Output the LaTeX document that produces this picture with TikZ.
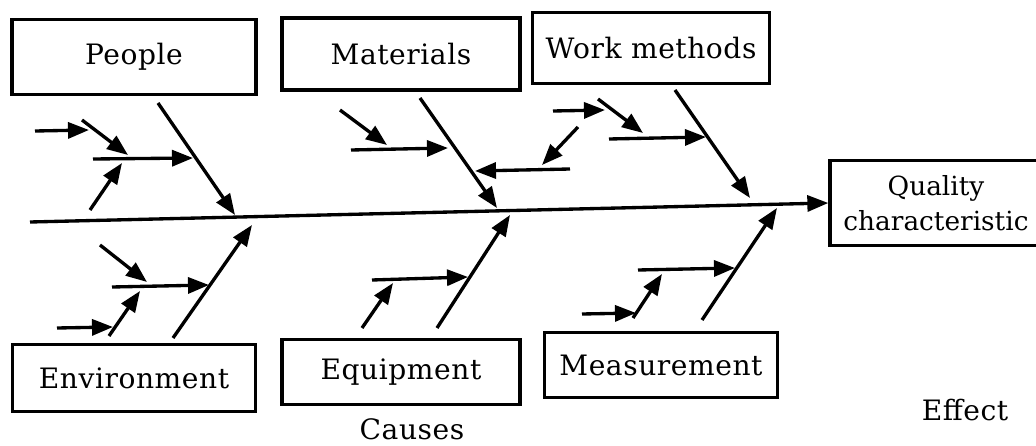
\documentclass[tikz,border=0pt]{standalone}
\usepackage{fontspec}
\setmainfont[LetterSpace=2]{DejaVu Serif}
\usepackage{tikz}
\usetikzlibrary{arrows.meta}

\begin{document}
\begin{tikzpicture}[
  x=0.02cm, y=-0.02cm,
  box/.style={draw, line width=1.9pt, align=center, inner sep=0pt, font=\fontsize{16}{20}\selectfont},
  caption/.style={align=center, font=\fontsize{16}{20}\selectfont},
  arrow/.style={-{Triangle[length=0.42cm, width=0.32cm]}, line width=1.9pt}
]
\useasboundingbox[fill=white] (0,0) rectangle (1036,446);

\node[box, minimum width=4.88cm, minimum height=1.5cm] (people) at (134,57) {People};
\node[box, minimum width=4.76cm, minimum height=1.44cm] (materials) at (401,54) {Materials};
\node[box, minimum width=4.74cm, minimum height=1.42cm] (work) at (651,48) {Work methods};
\node[box, minimum width=4.86cm, minimum height=1.34cm] (environment) at (134,378) {Environment};
\node[box, minimum width=4.76cm, minimum height=1.3cm] (equipment) at (401,372) {Equipment};
\node[box, minimum width=4.66cm, minimum height=1.3cm] (measurement) at (661,365) {Measurement};
\node[box, minimum width=4.24cm, minimum height=1.7cm,
      font=\fontsize{15}{20}\selectfont\addfontfeatures{LetterSpace=0}] (quality) at (936,203) {Quality\\characteristic};
\node[caption] (causes) at (412,429) {Causes};
\node[caption] (effect) at (965,410) {Effect};

\coordinate (tail) at (30,222);
\draw[arrow] (tail) -- (quality.west);

\coordinate (pe0) at (158,103); \coordinate (pe1) at (235,215);
\coordinate (pe2) at (93,159);  \coordinate (pe3) at (193,158);
\coordinate (pe4) at (35,131);  \coordinate (pe5) at (89,130);
\coordinate (pe6) at (82,120);  \coordinate (pe7) at (128,155);
\coordinate (pe8) at (90,210);  \coordinate (pe9) at (122,163);
\draw[arrow] (pe0) -- (pe1);
\draw[arrow] (pe2) -- (pe3);
\draw[arrow] (pe4) -- (pe5);
\draw[arrow] (pe6) -- (pe7);
\draw[arrow] (pe8) -- (pe9);

\coordinate (ma0) at (420,98);  \coordinate (ma1) at (497,208);
\coordinate (ma2) at (340,110); \coordinate (ma3) at (387,145);
\coordinate (ma4) at (351,150); \coordinate (ma5) at (448,148);
\coordinate (ma6) at (570,169); \coordinate (ma7) at (475,171);
\coordinate (ma8) at (578,127); \coordinate (ma9) at (542,165);
\draw[arrow] (ma0) -- (ma1);
\draw[arrow] (ma2) -- (ma3);
\draw[arrow] (ma4) -- (ma5);
\draw[arrow] (ma6) -- (ma7);
\draw[arrow] (ma8) -- (ma9);

\coordinate (wm0) at (675,90);  \coordinate (wm1) at (750,198);
\coordinate (wm2) at (553,111); \coordinate (wm3) at (605,110);
\coordinate (wm4) at (598,99);  \coordinate (wm5) at (643,133);
\coordinate (wm6) at (609,139); \coordinate (wm7) at (706,137);
\draw[arrow] (wm0) -- (wm1);
\draw[arrow] (wm2) -- (wm3);
\draw[arrow] (wm4) -- (wm5);
\draw[arrow] (wm6) -- (wm7);

\coordinate (en0) at (173,338); \coordinate (en1) at (252,225);
\coordinate (en2) at (100,245); \coordinate (en3) at (147,282);
\coordinate (en4) at (112,287); \coordinate (en5) at (209,285);
\coordinate (en6) at (57,328);  \coordinate (en7) at (113,327);
\coordinate (en8) at (109,336); \coordinate (en9) at (140,291);
\draw[arrow] (en0) -- (en1);
\draw[arrow] (en2) -- (en3);
\draw[arrow] (en4) -- (en5);
\draw[arrow] (en6) -- (en7);
\draw[arrow] (en8) -- (en9);

\coordinate (eq0) at (437,328); \coordinate (eq1) at (510,215);
\coordinate (eq2) at (372,280); \coordinate (eq3) at (468,277);
\coordinate (eq4) at (362,328); \coordinate (eq5) at (393,283);
\draw[arrow] (eq0) -- (eq1);
\draw[arrow] (eq2) -- (eq3);
\draw[arrow] (eq4) -- (eq5);

\coordinate (me0) at (702,320); \coordinate (me1) at (777,208);
\coordinate (me2) at (638,270); \coordinate (me3) at (735,268);
\coordinate (me4) at (582,314); \coordinate (me5) at (636,313);
\coordinate (me6) at (633,318); \coordinate (me7) at (662,274);
\draw[arrow] (me0) -- (me1);
\draw[arrow] (me2) -- (me3);
\draw[arrow] (me4) -- (me5);
\draw[arrow] (me6) -- (me7);
\end{tikzpicture}
\end{document}
